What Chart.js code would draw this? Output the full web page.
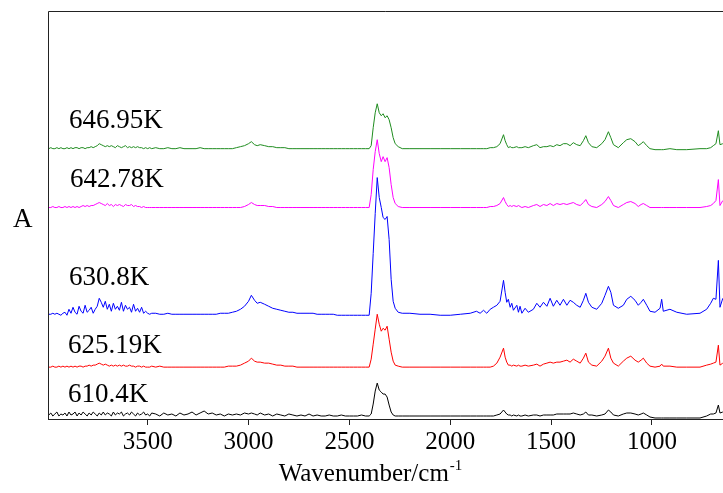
<!DOCTYPE html>
<html>
<head>
<meta charset="utf-8">
<script src="https://cdn.jsdelivr.net/npm/chart.js@4.4.1/dist/chart.umd.min.js"></script>
<style>
  body { margin: 0; background: #fff; }
  #wrap { width: 723px; height: 493px; }
</style>
</head>
<body>
<div id="wrap"><canvas id="grafico"></canvas></div>
<script>
// wavenumber grid (cm-1), shared by all spectra
const wavenumber = [
  3990, 3980, 3970, 3960, 3950, 3940, 3930, 3920, 3910, 3900, 3890, 3880, 3870, 3860, 3850, 3840, 3830, 3820, 3810, 3800,
  3790, 3780, 3770, 3760, 3750, 3740, 3730, 3720, 3710, 3700, 3690, 3680, 3670, 3660, 3650, 3640, 3630, 3620, 3610, 3600,
  3590, 3580, 3570, 3560, 3550, 3540, 3530, 3520, 3510, 3500, 3490, 3480,
  3460, 3440, 3420, 3400, 3380, 3360, 3340, 3320, 3300, 3280, 3260, 3240, 3220, 3200, 3180, 3160, 3140, 3120, 3100, 3080,
  3060, 3040, 3020, 3000, 2986, 2970, 2957, 2942, 2920, 2900, 2880, 2860, 2840, 2820, 2800, 2780, 2760, 2740, 2720, 2700,
  2680, 2660, 2640, 2620, 2600, 2580, 2560, 2540, 2520, 2500, 2480, 2460, 2440, 2420,
  2402, 2392, 2382, 2372, 2362, 2352, 2342, 2333, 2323, 2313, 2303, 2293, 2283, 2273, 2258, 2238,
  2200, 2150, 2100, 2050, 2000, 1950, 1901, 1870, 1852, 1835, 1819, 1802,
  1786, 1769, 1753, 1736, 1728, 1720, 1712, 1703, 1695, 1687, 1670, 1662, 1654, 1645, 1629, 1613,
  1588, 1571, 1555, 1538, 1521, 1505, 1489, 1472, 1456, 1439, 1422, 1406, 1390, 1373, 1356, 1340,
  1328, 1315, 1298, 1274, 1249, 1233, 1216, 1204, 1191, 1167, 1142, 1125, 1105, 1084, 1068, 1054,
  1043, 1026, 1010, 985, 960, 952, 944, 911, 877, 828, 762, 729, 709, 696, 683, 671, 663, 649
];

// absorbance (arb. units, spectra already offset)
const a646 = [
  271, 272, 271, 271, 272, 271, 272, 271, 271, 272, 271, 272, 271, 272, 272, 271, 272, 272, 271, 272,
  272, 273, 272, 273, 274, 276, 275, 274, 273, 274, 273, 274, 273, 272, 274, 273, 272, 273, 274, 272,
  273, 272, 273, 272, 273, 272, 272, 271, 272, 271, 272, 271,
  272, 271, 271, 272, 271, 271, 272, 271, 271, 271, 271, 272, 271, 271, 271, 271, 271, 271, 271, 271,
  272, 273, 274, 276, 278, 275, 274, 275, 274, 273, 273, 272, 272, 272, 271, 271, 271, 271, 271, 271,
  271, 271, 271, 271, 271, 271, 271, 271, 271, 271, 271, 271, 271, 271,
  271, 274, 292, 307, 316, 307, 304, 306, 302, 304, 300, 292, 282, 276, 273, 271,
  271, 271, 271, 271, 271, 271, 271, 271, 271, 271, 271, 272,
  272, 273, 276, 285, 279, 275, 272, 273, 272, 272, 273, 272, 272, 272, 273, 272,
  274, 275, 272, 273, 273, 274, 273, 275, 274, 276, 276, 274, 277, 275, 274, 279,
  284, 277, 273, 272, 276, 280, 288, 282, 275, 272, 277, 280, 281, 278, 274, 276,
  278, 274, 271, 270, 270, 270, 270, 271, 270, 270, 271, 271, 272, 274, 276, 289, 275, 276
];
const a642 = [
  212, 212, 213, 212, 212, 213, 212, 212, 213, 212, 213, 212, 213, 212, 213, 212, 213, 214, 213, 214,
  213, 214, 214, 215, 216, 217, 216, 215, 214, 216, 214, 215, 213, 215, 214, 215, 214, 213, 215, 214,
  214, 215, 213, 214, 213, 213, 212, 213, 212, 212, 212, 212,
  212, 212, 212, 212, 212, 212, 212, 212, 212, 212, 212, 212, 212, 212, 212, 212, 212, 212, 212, 212,
  212, 212, 213, 215, 217, 215, 214, 214, 214, 213, 213, 212, 212, 212, 212, 212, 212, 212, 212, 212,
  212, 212, 212, 212, 212, 212, 212, 212, 212, 212, 212, 212, 212, 212,
  212, 225, 250, 268, 280, 266, 258, 263, 258, 262, 252, 235, 222, 216, 213, 212,
  212, 212, 212, 212, 212, 212, 212, 212, 212, 212, 212, 213,
  213, 214, 216, 222, 218, 215, 213, 214, 213, 214, 213, 214, 213, 212, 213, 212,
  214, 215, 213, 215, 214, 216, 214, 216, 215, 216, 215, 216, 217, 215, 214, 217,
  220, 215, 213, 212, 215, 218, 223, 219, 214, 212, 215, 217, 218, 216, 213, 215,
  216, 214, 212, 212, 212, 212, 212, 212, 212, 212, 212, 213, 214, 216, 219, 240, 214, 219
];
const a630 = [
  105, 105, 106, 105, 106, 105, 104, 106, 107, 104, 110, 106, 112, 107, 105, 113, 108, 106, 114, 107,
  109, 112, 106, 110, 113, 121, 117, 112, 118, 110, 115, 108, 116, 110, 113, 109, 117, 108, 114, 110,
  112, 107, 115, 108, 111, 107, 112, 106, 108, 106, 105, 106,
  106, 105, 105, 106, 105, 105, 105, 105, 105, 105, 105, 105, 105, 105, 105, 105, 106, 106, 106, 107,
  108, 110, 113, 118, 124, 119, 116, 117, 115, 113, 111, 110, 109, 108, 107, 107, 106, 106, 106, 106,
  106, 105, 105, 105, 105, 105, 104, 104, 104, 104, 104, 104, 104, 104,
  104, 126, 166, 206, 242, 222, 212, 202, 200, 203, 180, 140, 118, 111, 107, 106,
  106, 105, 105, 104, 104, 105, 106, 108, 106, 109, 106, 110,
  112, 114, 118, 139, 127, 117, 120, 112, 116, 109, 114, 107, 113, 106, 111, 107,
  110, 116, 112, 117, 113, 121, 113, 119, 114, 120, 114, 119, 117, 114, 112, 119,
  126, 117, 112, 110, 116, 124, 133, 127, 114, 111, 114, 120, 123, 119, 114, 117,
  120, 114, 108, 107, 111, 120, 108, 110, 107, 105, 106, 110, 116, 121, 120, 159, 112, 121
];
const a625 = [
  52, 52, 53, 52, 52, 53, 52, 53, 52, 53, 52, 53, 52, 53, 52, 53, 53, 52, 53, 53,
  54, 53, 54, 54, 55, 56, 55, 54, 55, 54, 53, 54, 53, 54, 53, 54, 53, 54, 53, 53,
  54, 53, 53, 52, 53, 53, 52, 53, 52, 52, 52, 53,
  52, 53, 52, 52, 52, 52, 52, 52, 52, 52, 52, 52, 52, 52, 52, 52, 52, 52, 53, 53,
  53, 54, 56, 58, 61, 58, 57, 57, 56, 56, 55, 54, 54, 53, 53, 53, 52, 52, 52, 52,
  52, 52, 52, 52, 52, 52, 52, 52, 52, 52, 52, 52, 52, 52,
  52, 60, 75, 90, 105, 95, 88, 91, 89, 93, 80, 67, 58, 54, 53, 52,
  52, 52, 52, 52, 52, 52, 52, 52, 52, 52, 52, 52,
  53, 56, 62, 71, 62, 57, 54, 54, 53, 54, 53, 54, 53, 53, 54, 53,
  54, 55, 53, 55, 56, 57, 56, 57, 57, 58, 59, 57, 60, 58, 56, 61,
  66, 57, 54, 53, 58, 63, 71, 61, 56, 53, 58, 61, 63, 59, 57, 59,
  61, 56, 53, 52, 53, 55, 53, 53, 52, 52, 52, 54, 55, 56, 57, 74, 54, 56
];
const a610 = [
  4, 6, 3, 5, 7, 3, 5, 4, 6, 3, 7, 4, 5, 7, 3, 6, 4, 7, 5, 3,
  6, 4, 7, 5, 3, 6, 4, 7, 4, 6, 5, 3, 7, 4, 6, 5, 7, 3, 5, 6,
  4, 7, 5, 3, 6, 4, 5, 7, 4, 5, 3, 6,
  5, 3, 6, 4, 5, 3, 6, 4, 5, 7, 4, 6, 8, 5, 6, 4, 5, 3, 5, 4,
  5, 4, 6, 5, 6, 5, 4, 6, 4, 5, 3, 5, 4, 3, 5, 4, 3, 4, 3, 5,
  3, 4, 3, 3, 4, 3, 3, 4, 3, 3, 3, 3, 4, 3,
  3, 5, 15, 28, 36, 29, 27, 25, 25, 22, 14, 7, 4, 3, 3, 3,
  3, 3, 3, 3, 3, 3, 3, 3, 3, 3, 3, 3,
  3, 4, 5, 9, 7, 5, 4, 4, 3, 4, 3, 4, 3, 3, 4, 3,
  4, 4, 3, 4, 4, 4, 4, 5, 5, 5, 5, 5, 6, 5, 4, 5,
  7, 4, 4, 3, 4, 5, 9, 7, 4, 3, 5, 6, 6, 5, 4, 5,
  6, 4, 2, 1, 1, 1, 1, 1, 1, 1, 1, 3, 5, 5, 6, 14, 6, 7
];

const temperaturas = ["646.95K", "642.78K", "630.8K", "625.19K", "610.4K"];
const espectros = [a646, a642, a630, a625, a610];
const cores = ["#1f8c1f", "#ff00ff", "#0000ff", "#ff0000", "#000000"];
const xTicks = [3500, 3000, 2500, 2000, 1500, 1000];

const fonte = "'Liberation Serif', 'Times New Roman', serif";

// =========================
// rótulos e moldura
// =========================
const rotuloPos = [[69, 128], [70, 187], [69, 285], [68, 353], [68, 402]];

const moldura = {
  id: "moldura",
  afterDraw(chart) {
    const ctx = chart.ctx;
    const a = chart.chartArea;
    ctx.save();
    ctx.strokeStyle = "#222";
    ctx.lineWidth = 1;
    ctx.beginPath();
    ctx.moveTo(a.left + 0.5, a.bottom);
    ctx.lineTo(a.left + 0.5, a.top + 0.5);
    ctx.lineTo(a.right, a.top + 0.5);
    ctx.stroke();

    ctx.fillStyle = "#000";
    ctx.textBaseline = "alphabetic";
    ctx.font = "27px " + fonte;
    temperaturas.forEach((t, i) => {
      ctx.fillText(t, rotuloPos[i][0], rotuloPos[i][1]);
    });

    ctx.fillText("A", 13, 227);

    // titulo do eixo x com expoente
    ctx.font = "25px " + fonte;
    const base = "Wavenumber/cm";
    const w1 = ctx.measureText(base).width;
    ctx.font = "15px " + fonte;
    const w2 = ctx.measureText("-1").width;
    const x0 = 370 - (w1 + w2) / 2;
    ctx.font = "25px " + fonte;
    ctx.fillText(base, x0, 481);
    ctx.font = "15px " + fonte;
    ctx.fillText("-1", x0 + w1 + 1, 470);
    ctx.restore();
  }
};

new Chart(document.getElementById("grafico"), {
  type: "line",
  data: {
    datasets: espectros.map((s, i) => ({
      label: temperaturas[i],
      data: wavenumber.map((w, j) => ({ x: w, y: s[j] })),
      borderColor: cores[i],
      borderWidth: 1,
      pointRadius: 0,
      tension: 0,
      fill: false
    }))
  },
  options: {
    responsive: true,
    maintainAspectRatio: false,
    animation: false,
    layout: { padding: { left: 48, top: 11, right: 0, bottom: 0 } },
    plugins: { legend: { display: false }, tooltip: { enabled: false } },
    scales: {
      x: {
        type: "linear",
        reverse: true,
        min: 648,
        max: 3994,
        afterBuildTicks: s => { s.ticks = xTicks.map(v => ({ value: v })); },
        afterFit: s => { s.height = 74; },
        grid: { display: true, drawOnChartArea: false, drawTicks: true, tickLength: 6, color: "#222" },
        border: { display: true, color: "#222", width: 1 },
        ticks: { color: "#000", padding: 2, font: { family: fonte, size: 25 }, callback: v => String(v) }
      },
      y: {
        display: false,
        min: 0,
        max: 409
      }
    }
  },
  plugins: [moldura]
});
</script>
</body>
</html>
